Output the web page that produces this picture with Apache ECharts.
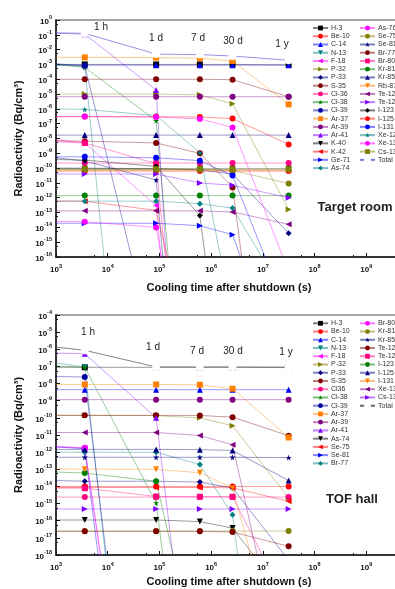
<!DOCTYPE html>
<html>
<head>
<meta charset="utf-8">
<script src="https://cdn.jsdelivr.net/npm/echarts@6/dist/echarts.min.js"></script>
<style>
html,body{margin:0;padding:0;background:#fff}
#chart{width:395px;height:589px}
</style>
</head>
<body>
<div id="chart"></div>
<script>
// cooling times (s): left edge, 1 h, 1 d, 7 d, 30 d, 1 y
var times = [1e3, 3600, 86400, 604800, 2592000, 31536000];

// ---- target room (Bq/cm3) ----
var h3Room = [1.0e-3, 1.0e-3, 1.0e-3, 1.0e-3, 1.0e-3, 9.5e-4];
var be10Room = [6.3e-11, 6.3e-11, 6.3e-11, 6.3e-11, 6.3e-11, 6.3e-11];
var c14Room = [8.9e-4, 8.9e-4, 8.9e-4, 8.9e-4, 8.9e-4, 8.9e-4];
var n13Room = [1.0e-3, 7.0e-4, 1e-51];
var f18Room = [6e-9, 5e-9, 3e-13, 1e-45];
var p32Room = [1e-5, 1e-5, 1e-5, 8.9e-6, 2.2e-6, 1.6e-13];
var p33Room = [1e-10, 1e-10, 9.1e-11, 7.6e-11, 4e-11, 4e-15];
var s35Room = [1e-4, 1e-4, 1e-4, 1e-4, 9.3e-5, 6.6e-6];
var cl36Room = [2.2e-10, 2.2e-10, 2.2e-10, 2.2e-10, 2.2e-10, 2.2e-10];
var cl38Room = [1e-3, 6.3e-4, 1.6e-7, 1e-40];
var cl39Room = [1.1e-3, 8e-4, 1.6e-23];
var ar37Room = [3e-3, 3e-3, 2.9e-3, 2.6e-3, 1.7e-3, 2e-6];
var ar39Room = [6.6e-6, 6.6e-6, 6.6e-6, 6.6e-6, 6.6e-6, 6.6e-6];
var ar41Room = [1.3e-1, 1.1e-1, 1.9e-5, 1e-54];
var k40Room = [8.9e-11, 8.9e-11, 8.9e-11, 8.9e-11, 8.9e-11, 8.9e-11];
var k42Room = [6e-13, 5.9e-13, 1.4e-13, 1e-25];
var ge71Room = [1.9e-14, 1.9e-14, 1.9e-14, 1.3e-14, 3.2e-15, 1e-25];
var as74Room = [5.9e-13, 5.9e-13, 5.9e-13, 4e-13, 2e-13, 1e-19];
var as76Room = [2.5e-14, 2.4e-14, 1e-14, 1e-30];
var se75Room = [8.5e-11, 8.5e-11, 8.5e-11, 8.3e-11, 7e-11, 9.1e-12];
var se81Room = [5e-10, 3e-10, 1.6e-11, 1e-45];
var br77Room = [7e-9, 6.6e-9, 5e-9, 1e-9, 5e-12, 1e-40];
var br80Room = [8e-9, 5e-9, 2e-10, 1e-40];
var kr81Room = [1.4e-12, 1.4e-12, 1.4e-12, 1.4e-12, 1.4e-12, 1.4e-12];
var kr85Room = [1.7e-8, 1.7e-8, 1.7e-8, 1.7e-8, 1.7e-8, 1.7e-8];
var rb87Room = [7e-11, 7e-11, 7e-11, 7e-11, 7e-11, 7e-11];
var te123Room = [1.3e-13, 1.3e-13, 1.3e-13, 1.3e-13, 1.1e-13, 1.6e-14];
var te127Room = [4e-11, 4e-11, 4e-11, 1e-11, 7e-12, 1e-12];
var i123Room = [3.8e-10, 3.5e-10, 1.3e-10, 6.3e-14, 1e-30];
var i125Room = [3e-7, 3e-7, 3e-7, 2.8e-7, 2.2e-7, 4e-9];
var i131Room = [5.8e-10, 5.8e-10, 5e-10, 3.2e-10, 3.2e-11, 1e-20];
var xe125Room = [1e-6, 9.3e-7, 3.5e-7, 1.1e-9, 1e-20];
var xe131Room = [3e-7, 3e-7, 2.8e-7, 2.1e-7, 5.6e-8, 1e-17];
var cs137Room = [8.5e-11, 8.5e-11, 8.5e-11, 8.5e-11, 8.5e-11, 8.5e-11];
var totalRoom = [1.35e-1, 1.26e-1, 5e-3, 4.6e-3, 3.7e-3, 1.9e-3];

// ---- TOF hall (Bq/cm3) ----
var h3Tof = [8.9e-8, 8.9e-8, 8.9e-8, 8.9e-8, 8.9e-8, 8.9e-8];
var be10Tof = [1e-14, 1e-14, 1e-14, 1e-14, 1e-14, 1e-14];
var c14Tof = [4.4e-9, 4.4e-9, 4.4e-9, 4.4e-9, 4.4e-9, 4.4e-9];
var n13Tof = [1.6e-7, 9e-8, 1e-45];
var f18Tof = [2e-12, 1.7e-12, 1e-40];
var p32Tof = [1.4e-10, 1.4e-10, 1.35e-10, 1e-10, 3.5e-11, 2.1e-15];
var p33Tof = [2.2e-14, 2e-14, 2e-14, 1.8e-14, 8e-15, 5e-19];
var s35Tof = [1.4e-10, 1.4e-10, 1.4e-10, 1.38e-10, 1.1e-10, 9.1e-12];
var cl36Tof = [2.4e-15, 2.4e-15, 2.4e-15, 2.4e-15, 2.4e-15, 2.4e-15];
var cl38Tof = [1.05e-7, 9.1e-8, 1.1e-15, 1e-35];
var cl39Tof = [2.6e-8, 2.4e-8, 1e-42];
var ar37Tof = [8.9e-9, 8.9e-9, 8.9e-9, 8.5e-9, 5e-9, 7.2e-12];
var ar39Tof = [1.15e-9, 1.15e-9, 1.15e-9, 1.15e-9, 1.15e-9, 1.15e-9];
var ar41Tof = [6e-7, 5.5e-7, 1e-10, 1e-31];
var as74Tof = [1.1e-16, 1.1e-16, 1.1e-16, 8.9e-17, 3.7e-17, 2.5e-21];
var se75Tof = [8.7e-15, 8.7e-15, 8.7e-15, 8.7e-15, 8.3e-15, 1.35e-15];
var se81Tof = [2e-12, 1.6e-12, 1e-45];
var br77Tof = [1e-12, 1e-12, 9.8e-13, 1.9e-13, 2.2e-16, 1e-41];
var br80Tof = [2.2e-12, 1.8e-12, 1e-40];
var kr81Tof = [2.5e-17, 2.5e-17, 2.5e-17, 2.5e-17, 2.5e-17, 2.5e-17];
var kr85Tof = [5e-13, 5e-13, 5e-13, 5e-13, 5e-13, 4.8e-13];
var te123Tof = [2.4e-17, 2.4e-17, 2.4e-17, 2.4e-17, 2.2e-17, 3.2e-18];
var te127Tof = [8e-15, 7.9e-15, 2.6e-15, 2.5e-15, 2.5e-15, 1e-21];
var i123Tof = [7e-14, 6e-14, 2e-14, 1.6e-25];
var i125Tof = [1.45e-12, 1.45e-12, 1.45e-12, 1.4e-12, 1.26e-12, 2.2e-14];
var i131Tof = [1.05e-13, 1.02e-13, 1e-13, 6.3e-14, 7.9e-15, 1e-26];
var xe131Tof = [1.4e-11, 1.4e-11, 1.4e-11, 9.3e-12, 2.7e-12, 6e-27];
var cs137Tof = [4.8e-16, 4.8e-16, 4.8e-16, 4.8e-16, 4.8e-16, 4.8e-16];
var totalTof = [1.35e-6, 8.7e-7, 9.3e-8, 9.3e-8, 9.3e-8, 8.9e-8];

var roomList = [
    ['H-3', h3Room], ['Be-10', be10Room], ['C-14', c14Room], ['N-13', n13Room], ['F-18', f18Room],
    ['P-32', p32Room], ['P-33', p33Room], ['S-35', s35Room], ['Cl-36', cl36Room], ['Cl-38', cl38Room],
    ['Cl-39', cl39Room], ['Ar-37', ar37Room], ['Ar-39', ar39Room], ['Ar-41', ar41Room], ['K-40', k40Room],
    ['K-42', k42Room], ['Ge-71', ge71Room], ['As-74', as74Room], ['As-76', as76Room], ['Se-75', se75Room],
    ['Se-81', se81Room], ['Br-77', br77Room], ['Br-80', br80Room], ['Kr-81', kr81Room], ['Kr-85', kr85Room],
    ['Rb-87', rb87Room], ['Te-123', te123Room], ['Te-127', te127Room], ['I-123', i123Room], ['I-125', i125Room],
    ['I-131', i131Room], ['Xe-125', xe125Room], ['Xe-131', xe131Room], ['Cs-137', cs137Room], ['Total', totalRoom]
];
var tofList = [
    ['H-3', h3Tof], ['Be-10', be10Tof], ['C-14', c14Tof], ['N-13', n13Tof], ['F-18', f18Tof],
    ['P-32', p32Tof], ['P-33', p33Tof], ['S-35', s35Tof], ['Cl36', cl36Tof], ['Cl-38', cl38Tof],
    ['Cl-39', cl39Tof], ['Ar-37', ar37Tof], ['Ar-39', ar39Tof], ['Ar-41', ar41Tof], ['As-74', as74Tof],
    ['Se-75', se75Tof], ['Se-81', se81Tof], ['Br-77', br77Tof], ['Br-80', br80Tof], ['Kr-81', kr81Tof],
    ['Kr-85', kr85Tof], ['Te-123', te123Tof], ['Te-127', te127Tof], ['I-123', i123Tof], ['I-125', i125Tof],
    ['I-131', i131Tof], ['Xe-131', xe131Tof], ['Cs-137', cs137Tof], ['Total', totalTof]
];

// Origin-like colour / symbol cycle
var star = 'path://M50,0L61,35L98,35L68,57L79,91L50,70L21,91L32,57L2,35L39,35Z';
var styles = [
    ['#000000', 'rect', 0], ['#ff0000', 'circle', 0], ['#0000ff', 'triangle', 0], ['#008080', 'triangle', 180],
    ['#ff00ff', 'triangle', 90], ['#808000', 'triangle', -90], ['#000080', 'diamond', 0], ['#800000', 'circle', 0],
    ['#ff0080', 'circle', 0], ['#008000', star, 0], ['#0000a0', 'circle', 0], ['#ff8000', 'rect', 0],
    ['#800080', 'circle', 0], ['#8000ff', 'triangle', 0], ['#000000', 'triangle', 180], ['#ff0000', 'triangle', 90],
    ['#0000ff', 'triangle', -90], ['#008080', 'diamond', 0], ['#ff00ff', 'circle', 0], ['#808000', 'circle', 0],
    ['#000080', star, 0], ['#800000', 'circle', 0], ['#ff0080', 'rect', 0], ['#008000', 'circle', 0],
    ['#000080', 'triangle', 0], ['#ff8000', 'triangle', 180], ['#800080', 'triangle', 90], ['#8000ff', 'triangle', -90],
    ['#000000', 'diamond', 0], ['#ff0000', 'circle', 0], ['#0000ff', 'circle', 0], ['#008080', star, 0],
    ['#ff00ff', 'circle', 0], ['#808000', 'rect', 0]
];

function buildSeries(list, gi, prefix, totalColor) {
    return list.map(function (item, i) {
        var isTotal = item[0] === 'Total';
        var st = isTotal ? [totalColor, 'emptyCircle', 0] : styles[i];
        var data = item[1].map(function (v, k) {
            if (k === 0) return { value: [times[k], v], symbol: 'none' };
            return [times[k], v];
        });
        return {
            name: prefix + item[0],
            type: 'line',
            xAxisIndex: gi,
            yAxisIndex: gi,
            data: data,
            symbol: st[1],
            symbolRotate: st[2],
            symbolSize: 6,
            showAllSymbol: true,
            clip: true,
            z: isTotal ? 5 : 3,
            itemStyle: { color: isTotal ? '#fff' : st[0], borderColor: st[0], borderWidth: isTotal ? 1 : 0 },
            lineStyle: { color: st[0], width: 0.8, opacity: isTotal ? 0.9 : 0.5 },
            emphasis: { disabled: true }
        };
    });
}

function supLabel(v) {
    return '{b|10}{s|' + Math.round(Math.log10(v)) + '}';
}
var labelRich = {
    b: { fontSize: 8, fontWeight: 'bold', color: '#111', fontFamily: 'Liberation Sans', lineHeight: 11, verticalAlign: 'bottom' },
    s: { fontSize: 5.5, fontWeight: 'bold', color: '#111', fontFamily: 'Liberation Sans', lineHeight: 11, verticalAlign: 'top' }
};
var nameStyle = { fontSize: 11, fontWeight: 'bold', color: '#111', fontFamily: 'Liberation Sans' };

function xAxisCfg(gi, gap) {
    return {
        type: 'log', gridIndex: gi, min: 1e3, max: 1e10, interval: 1,
        name: 'Cooling time after shutdown (s)', nameLocation: 'middle', nameGap: gap,
        nameTextStyle: Object.assign({ padding: [0, 16, 0, 0] }, nameStyle),
        axisLine: { lineStyle: { color: '#111', width: 1.5 } },
        axisTick: { inside: true, length: 4, lineStyle: { color: '#111' } },
        minorTick: { show: true, splitNumber: 2, length: 2, lineStyle: { color: '#111' } },
        axisLabel: { formatter: supLabel, rich: labelRich, margin: 6 },
        splitLine: { show: false }
    };
}
function yAxisCfg(gi, min, max) {
    return {
        type: 'log', gridIndex: gi, min: min, max: max, interval: 1,
        name: 'Radioactivity (Bq/cm³)', nameLocation: 'middle', nameGap: 30,
        nameTextStyle: nameStyle,
        axisLine: { lineStyle: { color: '#111', width: 1.5 } },
        axisTick: { inside: true, length: 4, lineStyle: { color: '#111' } },
        minorTick: { show: true, splitNumber: 2, length: 2, lineStyle: { color: '#111' } },
        axisLabel: { formatter: supLabel, rich: labelRich, margin: 4 },
        splitLine: { show: false }
    };
}

function legendCol(names, prefix, left, top) {
    return {
        orient: 'vertical', left: left, top: top, padding: 0,
        itemWidth: 15, itemHeight: 6, itemGap: 1.24,
        data: names.map(function (n) { return prefix + n; }),
        formatter: function (n) { return n.replace(prefix, ''); },
        textStyle: { fontSize: 7, lineHeight: 7, color: '#333', fontFamily: 'Liberation Sans', padding: [0, 0, 0, -2] },
        selectedMode: false
    };
}

var roomNames = roomList.map(function (d) { return d[0]; });
var tofNames = tofList.map(function (d) { return d[0]; });

function tText(x, y, s, size, bold) {
    return {
        type: 'text', x: x, y: y,
        style: { text: s, fontSize: size, fontWeight: bold ? 'bold' : 'normal', fill: '#222', fontFamily: 'Liberation Sans', align: 'center', verticalAlign: 'middle' }
    };
}

var chart = echarts.init(document.getElementById('chart'));
chart.setOption({
    animation: false,
    backgroundColor: '#fff',
    grid: [
        { left: 56, top: 20, width: 362, height: 237, show: true, borderColor: '#888', borderWidth: 1.5, containLabel: false, outerBoundsMode: 'none' },
        { left: 56, top: 315, width: 362, height: 240, show: true, borderColor: '#888', borderWidth: 1.5, containLabel: false, outerBoundsMode: 'none' }
    ],
    xAxis: [xAxisCfg(0, 25), xAxisCfg(1, 21)],
    yAxis: [yAxisCfg(0, 1e-16, 1), yAxisCfg(1, 1e-18, 1e-4)],
    legend: [
        legendCol(roomNames.slice(0, 18), 'R:', 312, 24.5),
        legendCol(roomNames.slice(18), 'R:', 359, 24.5),
        legendCol(tofNames.slice(0, 18), 'T:', 312, 319.8),
        legendCol(tofNames.slice(18), 'T:', 359, 319.8)
    ],
    graphic: [
        tText(101, 27, '1 h', 10), tText(156, 38, '1 d', 10), tText(198, 38, '7 d', 10),
        tText(233, 41, '30 d', 10), tText(282, 44, '1 y', 10),
        tText(88, 332, '1 h', 10), tText(153, 347, '1 d', 10), tText(197, 351, '7 d', 10),
        tText(233, 351, '30 d', 10), tText(286, 352, '1 y', 10),
        tText(355, 207, 'Target room', 13, true), tText(352, 499, 'TOF hall', 13, true)
    ],
    series: buildSeries(roomList, 0, 'R:', '#6b6bd6').concat(buildSeries(tofList, 1, 'T:', '#555555'))
});
</script>
</body>
</html>
